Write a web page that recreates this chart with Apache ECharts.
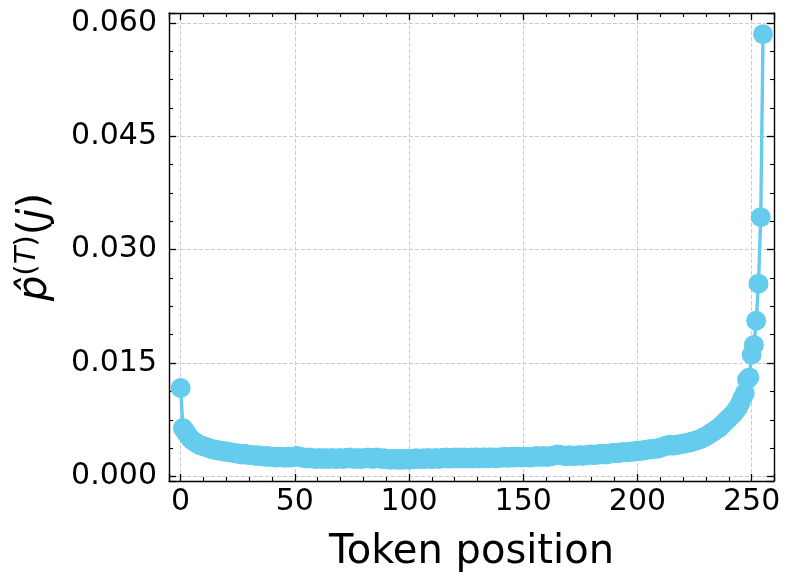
<!DOCTYPE html>
<html>
<head>
<meta charset="utf-8">
<script src="https://cdn.jsdelivr.net/npm/echarts@6/dist/echarts.min.js"></script>
<style>html,body{margin:0;padding:0;background:#fff}#c{width:792px;height:584px}</style>
</head>
<body>
<div id="c"></div>
<script>
// ---- data ----
const xTickValues = [0, 50, 100, 150, 200, 250];
const yTickValues = [0.000, 0.015, 0.030, 0.045, 0.060];
const tokenValues = [
  0.0117, 0.0064, 0.0060, 0.0055, 0.0051, 0.0048, 0.0046, 0.0044, 0.0042, 0.0041,
  0.0040, 0.0039, 0.0038, 0.0037, 0.0036, 0.0035, 0.0035, 0.0034, 0.0034, 0.0033,
  0.0033, 0.0032, 0.0032, 0.0031, 0.0031, 0.0030, 0.0030, 0.0029, 0.0030, 0.0029,
  0.0028, 0.0028, 0.0028, 0.0027, 0.0028, 0.0027, 0.0027, 0.0026, 0.0027, 0.0026,
  0.0026, 0.0026, 0.0025, 0.0026, 0.0026, 0.0025, 0.0025, 0.0026, 0.0025, 0.0026,
  0.0026, 0.0027, 0.0026, 0.0025, 0.0025, 0.0024, 0.0025, 0.0024, 0.0024, 0.0023,
  0.0024, 0.0024, 0.0023, 0.0024, 0.0024, 0.0023, 0.0024, 0.0024, 0.0023, 0.0024,
  0.0024, 0.0023, 0.0024, 0.0024, 0.0025, 0.0024, 0.0023, 0.0024, 0.0024, 0.0023,
  0.0024, 0.0024, 0.0025, 0.0024, 0.0023, 0.0024, 0.0025, 0.0024, 0.0023, 0.0024,
  0.0023, 0.0023, 0.0022, 0.0023, 0.0023, 0.0022, 0.0023, 0.0022, 0.0023, 0.0023,
  0.0022, 0.0023, 0.0023, 0.0024, 0.0023, 0.0023, 0.0024, 0.0023, 0.0024, 0.0024,
  0.0023, 0.0024, 0.0024, 0.0023, 0.0024, 0.0024, 0.0025, 0.0024, 0.0024, 0.0024,
  0.0025, 0.0024, 0.0025, 0.0024, 0.0025, 0.0024, 0.0024, 0.0025, 0.0024, 0.0025,
  0.0025, 0.0024, 0.0025, 0.0025, 0.0024, 0.0025, 0.0025, 0.0025, 0.0024, 0.0025,
  0.0025, 0.0025, 0.0026, 0.0025, 0.0025, 0.0026, 0.0025, 0.0026, 0.0026, 0.0025,
  0.0026, 0.0026, 0.0026, 0.0025, 0.0026, 0.0026, 0.0027, 0.0026, 0.0026, 0.0027,
  0.0026, 0.0026, 0.0027, 0.0027, 0.0028, 0.0029, 0.0028, 0.0028, 0.0027, 0.0027,
  0.0028, 0.0027, 0.0027, 0.0027, 0.0028, 0.0028, 0.0027, 0.0028, 0.0028, 0.0029,
  0.0029, 0.0028, 0.0029, 0.0029, 0.0030, 0.0030, 0.0029, 0.0030, 0.0030, 0.0031,
  0.0031, 0.0031, 0.0031, 0.0032, 0.0032, 0.0032, 0.0032, 0.0033, 0.0033, 0.0033,
  0.0034, 0.0034, 0.0034, 0.0035, 0.0035, 0.0036, 0.0036, 0.0036, 0.0037, 0.0037,
  0.0038, 0.0039, 0.0040, 0.0041, 0.0042, 0.0041, 0.0041, 0.0042, 0.0042, 0.0043,
  0.0043, 0.0044, 0.0045, 0.0045, 0.0046, 0.0047, 0.0048, 0.0049, 0.0050, 0.0052,
  0.0053, 0.0055, 0.0057, 0.0059, 0.0061, 0.0063, 0.0065, 0.0068, 0.0071, 0.0074,
  0.0077, 0.0080, 0.0083, 0.0087, 0.0091, 0.0097, 0.0104, 0.0110, 0.0128, 0.0131,
  0.0161, 0.0174, 0.0206, 0.0255, 0.0343, 0.0585
];
const xLabel = 'Token position';

// ---- build ----
const FONT = 'DejaVu Sans';
const seriesData = tokenValues.map((v, i) => [i, v]);
const xMin = -5.1, xMax = 259.8, xStep = xTickValues[1] - xTickValues[0];
const yMin = -0.0006, yMax = 0.0613, yStep = yTickValues[1] - yTickValues[0];

const tickStyle = { show: true, inside: true, length: 7, lineStyle: { color: '#000', width: 1.3 } };
const minorStyle = (n) => ({ show: true, splitNumber: n, length: 4, lineStyle: { color: '#000', width: 1.1 } });
const lineStyleAxis = { show: true, onZero: false, lineStyle: { color: '#000', width: 1.4 } };
const gridLine = { show: true, showMinLine: false, showMaxLine: false, lineStyle: { color: '#cccccc', width: 1, type: [4, 2] } };

const chart = echarts.init(document.getElementById('c'), null, { renderer: 'canvas' });
chart.setOption({
  animation: false,
  backgroundColor: '#fff',
  textStyle: { fontFamily: FONT },
  grid: { left: 169, right: 18, top: 13, bottom: 103, containLabel: false },
  xAxis: [{
    type: 'value', position: 'bottom', min: xMin, max: xMax,
    minInterval: xStep, maxInterval: xStep,
    axisLine: lineStyleAxis, axisTick: tickStyle, minorTick: minorStyle(5),
    splitLine: gridLine,
    axisLabel: { show: true, showMinLabel: false, showMaxLabel: false, margin: 6,
      color: '#000', fontSize: 30, fontFamily: FONT,
      formatter: (v) => xTickValues.includes(Math.round(v)) && Math.abs(v - Math.round(v)) < 1e-6 ? String(Math.round(v)) : '' },
    name: xLabel, nameLocation: 'middle', nameGap: 52,
    nameTextStyle: { color: '#000', fontSize: 40, fontFamily: FONT }
  }, {
    type: 'value', position: 'top', min: xMin, max: xMax,
    minInterval: xStep, maxInterval: xStep,
    axisLine: lineStyleAxis, axisTick: tickStyle, minorTick: minorStyle(5),
    splitLine: { show: false }, axisLabel: { show: false }
  }],
  yAxis: [{
    type: 'value', position: 'left', min: yMin, max: yMax,
    minInterval: yStep, maxInterval: yStep,
    axisLine: lineStyleAxis, axisTick: tickStyle, minorTick: minorStyle(4),
    splitLine: gridLine,
    axisLabel: { show: true, showMinLabel: false, showMaxLabel: false, margin: 12,
      color: '#000', fontSize: 30, fontFamily: FONT,
      formatter: (v) => v.toFixed(3) },
    name: '{p|p\u0302}{sup|(}{supi|T}{sup|)}{n|(}{pi|j}{n|)}',
    nameLocation: 'middle', nameGap: 110, nameRotate: 90,
    nameTextStyle: {
      color: '#000', fontFamily: FONT, fontSize: 40,
      rich: {
        p: { fontSize: 40, fontStyle: 'italic', fontFamily: FONT, color: '#000', lineHeight: 46 },
        pi: { fontSize: 40, fontStyle: 'italic', fontFamily: FONT, color: '#000', lineHeight: 46 },
        n: { fontSize: 40, fontFamily: FONT, color: '#000', lineHeight: 46 },
        sup: { fontSize: 29, fontFamily: FONT, color: '#000', verticalAlign: 'top' },
        supi: { fontSize: 29, fontStyle: 'italic', fontFamily: FONT, color: '#000', verticalAlign: 'top' }
      }
    }
  }, {
    type: 'value', position: 'right', min: yMin, max: yMax,
    minInterval: yStep, maxInterval: yStep,
    axisLine: lineStyleAxis, axisTick: tickStyle, minorTick: minorStyle(4),
    splitLine: { show: false }, axisLabel: { show: false }
  }],
  series: [{
    type: 'line', xAxisIndex: 0, yAxisIndex: 0,
    data: seriesData,
    symbol: 'circle', symbolSize: 20, showAllSymbol: true,
    itemStyle: { color: '#66CCEE' },
    lineStyle: { color: '#66CCEE', width: 3.4 },
    clip: false
  }]
});
</script>
</body>
</html>
